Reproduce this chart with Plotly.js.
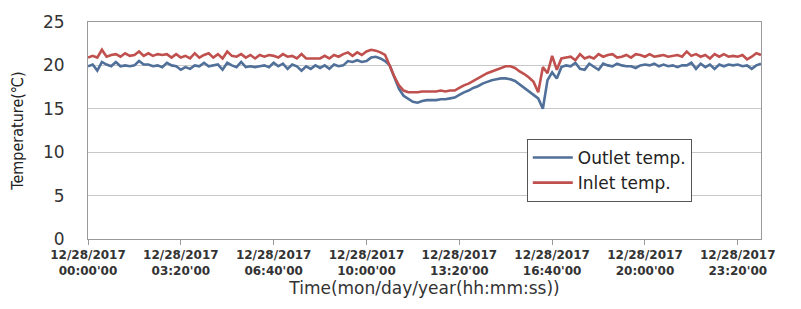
<!DOCTYPE html>
<html>
<head>
<meta charset="utf-8">
<script src="https://cdn.plot.ly/plotly-3.0.1.min.js"></script>
<style>html,body{margin:0;padding:0;background:#fff;}#chart{width:801px;height:309px;}</style>
</head>
<body>
<div id="chart"></div>
<script>
// Sample times in minutes after 12/28/2017 00:00'00 (10-minute logging)
const sampleMinutes = [0,10,20,30,40,50,60,70,80,90,100,110,120,130,140,150,160,170,180,190,200,210,220,230,240,250,260,270,280,290,300,310,320,330,340,350,360,370,380,390,400,410,420,430,440,450,460,470,480,490,500,510,520,530,540,550,560,570,580,590,600,610,620,630,640,650,660,670,680,690,700,710,720,730,740,750,760,770,780,790,800,810,820,830,840,850,860,870,880,890,900,910,920,930,940,950,960,970,980,990,1000,1010,1020,1030,1040,1050,1060,1070,1080,1090,1100,1110,1120,1130,1140,1150,1160,1170,1180,1190,1200,1210,1220,1230,1240,1250,1260,1270,1280,1290,1300,1310,1320,1330,1340,1350,1360,1370,1380,1390,1400,1410,1420,1430,1440,1450];

const outletTemp = [19.9,20.1,19.4,20.4,20.1,19.9,20.4,19.9,20.0,19.9,20.0,20.5,20.1,20.1,19.9,20.0,19.8,20.3,20.0,19.9,
19.5,19.8,19.6,20.0,19.9,20.3,19.9,20.0,20.1,19.5,20.3,20.0,19.8,20.4,19.8,19.9,19.8,19.9,20.0,19.8,
20.3,19.9,20.2,19.6,20.1,19.9,19.4,19.9,19.6,20.0,19.7,20.0,19.6,20.1,19.9,20.0,20.5,20.4,20.6,20.4,
20.5,20.9,21.0,20.8,20.5,20.0,18.7,17.3,16.5,16.1,15.8,15.7,15.9,16.0,16.0,16.0,16.1,16.1,16.2,16.3,
16.6,16.9,17.1,17.4,17.6,17.9,18.1,18.3,18.4,18.5,18.5,18.4,18.2,17.8,17.4,17.1,16.7,16.2,15.0,18.3,
19.2,18.5,19.8,20.0,19.9,20.3,19.6,19.5,20.2,19.9,19.5,20.2,20.0,19.9,20.2,20.0,19.9,19.9,19.7,20.0,
20.1,20.0,20.2,19.9,20.1,19.9,20.0,19.8,20.0,20.0,20.3,19.6,20.2,19.8,20.1,19.6,20.1,19.9,20.1,20.0,
20.1,19.9,20.0,19.6,20.0,20.2];

const inletTemp = [20.9,21.1,20.9,21.8,21.0,21.2,21.3,21.0,21.4,21.1,21.2,21.6,21.1,21.4,21.1,21.3,21.2,21.3,20.9,21.3,
20.9,21.1,20.8,21.4,20.9,21.2,21.4,20.9,21.3,20.8,21.6,21.1,21.0,21.3,20.9,21.2,20.8,21.2,21.0,21.2,
21.1,20.9,21.3,21.0,21.1,20.8,21.3,20.8,20.8,20.8,20.8,21.1,20.8,21.2,21.0,21.3,21.5,21.1,21.5,21.2,
21.6,21.8,21.7,21.5,21.2,20.0,18.7,17.7,17.1,16.9,16.9,16.9,17.0,17.0,17.0,17.0,17.1,17.0,17.1,17.1,
17.4,17.7,17.9,18.2,18.5,18.8,19.1,19.3,19.5,19.7,19.9,19.9,19.7,19.3,19.0,18.6,18.1,16.9,19.8,19.1,
21.1,19.5,20.8,20.9,21.0,20.6,21.3,20.8,21.0,20.8,21.3,21.0,21.2,21.3,20.9,21.0,21.2,20.9,21.3,21.2,
21.0,21.3,21.0,21.1,21.2,21.0,21.1,21.2,21.0,21.6,21.1,21.3,21.0,21.2,20.8,21.3,21.0,21.3,21.0,21.1,
21.0,21.2,20.7,21.0,21.4,21.2];

const tickMinutes = [0,200,400,600,800,1000,1200,1400];
const tickLabels = ["12/28/2017<br>00:00'00","12/28/2017<br>03:20'00","12/28/2017<br>06:40'00","12/28/2017<br>10:00'00",
                    "12/28/2017<br>13:20'00","12/28/2017<br>16:40'00","12/28/2017<br>20:00'00","12/28/2017<br>23:20'00"];
const seriesNames = ["Outlet temp.","Inlet temp."];

const traces = [
  {x: sampleMinutes, y: outletTemp, name: seriesNames[0], type: 'scatter', mode: 'lines',
   line: {color: '#50709a', width: 2.6}, legendgroup: 'a'},
  {x: sampleMinutes, y: inletTemp, name: seriesNames[1], type: 'scatter', mode: 'lines',
   line: {color: '#c0504d', width: 2.6}, legendgroup: 'b'}
];

const layout = {
  width: 801, height: 309,
  margin: {l: 88, r: 40, t: 22, b: 70},
  paper_bgcolor: '#fff', plot_bgcolor: '#fff',
  font: {family: 'DejaVu Sans, Verdana, sans-serif', color: '#333'},
  showlegend: true,
  legend: {x: 0.652, y: 0.461, xanchor: 'left', yanchor: 'top', bgcolor: '#fff',
           bordercolor: '#555', borderwidth: 1, font: {size: 17, color: '#222'},
           tracegroupgap: 0, traceorder: 'grouped', itemwidth: 40},
  xaxis: {range: [0, 1450], tickvals: tickMinutes, ticktext: tickLabels, showgrid: false,
          zeroline: false, showline: true, mirror: true, linecolor: '#999', linewidth: 1,
          ticks: 'outside', ticklen: 5, tickcolor: '#999',
          tickfont: {size: 12, color: '#333', weight: 'bold'},
          title: {text: 'Time(mon/day/year(hh:mm:ss))', font: {size: 17, color: '#333'}, standoff: 5}},
  yaxis: {range: [0, 25], dtick: 5, showgrid: true, gridcolor: '#c8c8c8', gridwidth: 1,
          zeroline: false, showline: true, mirror: true, linecolor: '#999', linewidth: 1,
          ticks: '', ticklabelstandoff: 19,
          tickfont: {size: 17, color: '#333'},
          title: {text: 'Temperature(℃)', font: {family: 'DejaVu Sans Condensed, DejaVu Sans, sans-serif', size: 16, color: '#222'}, standoff: 15}}
};

Plotly.newPlot('chart', traces, layout, {displayModeBar: false, staticPlot: true});
</script>
</body>
</html>
